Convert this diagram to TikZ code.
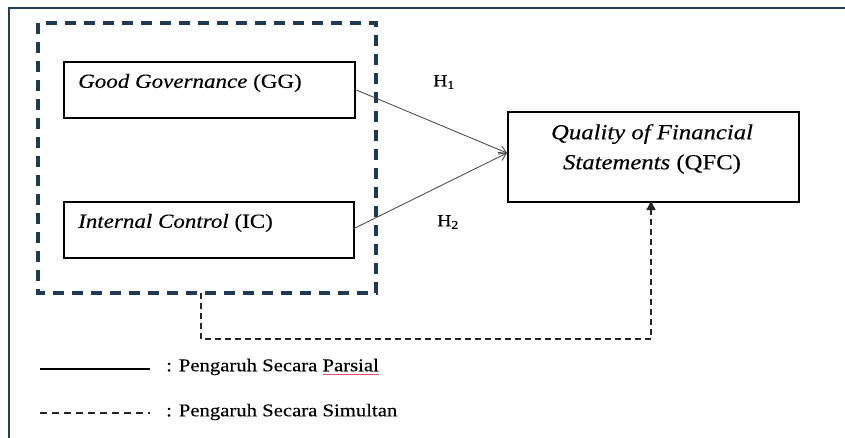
\documentclass[tikz,border=0pt]{standalone}
\usepackage{fontspec}
\setmainfont[FakeStretch=1.15,FakeBold=0.3]{Liberation Serif}
\usetikzlibrary{arrows.meta}
\definecolor{frameblue}{HTML}{243F5A}
\definecolor{dashblue}{HTML}{1F3A55}
\definecolor{ulred}{HTML}{E8506E}
\newcommand{\redul}[1]{\setbox0\hbox{#1}\rlap{\color{ulred}\rule[-4pt]{\wd0}{1.2pt}}\box0}
\tikzset{
  varbox/.style={draw=black, line width=1.6pt, rectangle, inner sep=0pt},
  boxtext/.style={anchor=west, font=\fontsize{20}{24}\selectfont, inner sep=0pt},
  htext/.style={font=\fontsize{17}{20}\selectfont, inner sep=0pt},
  legtext/.style={anchor=west, font=\fontsize{18}{21}\selectfont, inner sep=0pt},
  partial/.style={draw=black!75, line width=0.8pt},
  simul/.style={draw=black!85, line width=1.4pt, dash pattern=on 6pt off 4pt},
}
\begin{document}
\begin{tikzpicture}[x=1pt,y=-1pt]
\useasboundingbox (0,0) rectangle (845,437);
% outer frame (open to right and bottom)
\draw[frameblue, line width=2.8pt] (9,440) -- (9,8) -- (848,8);
% dashed group box
\draw[dashblue, line width=3.2pt, dash pattern=on 11pt off 8pt] (38,23) rectangle (376,293);
% variable boxes
\node[varbox, minimum width=291pt, minimum height=56pt, anchor=north west] (gg) at (63,61) {};
\node[boxtext] (ggt) at (78,83) {\textit{Good Governance} (GG)};
\node[varbox, minimum width=290pt, minimum height=56pt, anchor=north west] (ic) at (63,201) {};
\node[boxtext] (ict) at (78,223) {\textit{Internal Control} (IC)};
\node[varbox, minimum width=291pt, minimum height=90pt, anchor=north west] (qfc) at (507,111) {};
\node[font=\fontsize{21.5}{30}\selectfont, align=center, inner sep=0pt] (qfct) at (652,149)
  {\textit{Quality of Financial}\\\textit{Statements} (QFC)};
% hypotheses labels
\node[htext] (h1) at (444,82) {H\textsubscript{1}};
\node[htext] (h2) at (448,222) {H\textsubscript{2}};
% partial arrows
\coordinate (tip) at (507,153);
\draw[partial, -{Straight Barb[length=7pt,width=9pt]}] (354,89) -- (tip);
\draw[partial, -{Straight Barb[length=7pt,width=9pt]}] (353,229) -- (tip);
% simultaneous connector
\coordinate (gb) at (201,293);
\coordinate (c1) at (201,339);
\coordinate (c2) at (651,339);
\draw[simul, -{Triangle[length=9pt,width=9pt]}] (gb) -- (c1) -- (c2) -- (651,201);
% legend
\coordinate (l1a) at (40,369);
\coordinate (l1b) at (150,369);
\draw[draw=black, line width=1.3pt] (l1a) -- (l1b);
\node[legtext] (leg1) at (166,367) {: Pengaruh Secara \redul{Parsial}};
\coordinate (l2a) at (40,413);
\coordinate (l2b) at (150,413);
\draw[simul, dash pattern=on 7pt off 5pt] (l2a) -- (l2b);
\node[legtext] (leg2) at (166,412) {: Pengaruh Secara Simultan};
\end{tikzpicture}
\end{document}
